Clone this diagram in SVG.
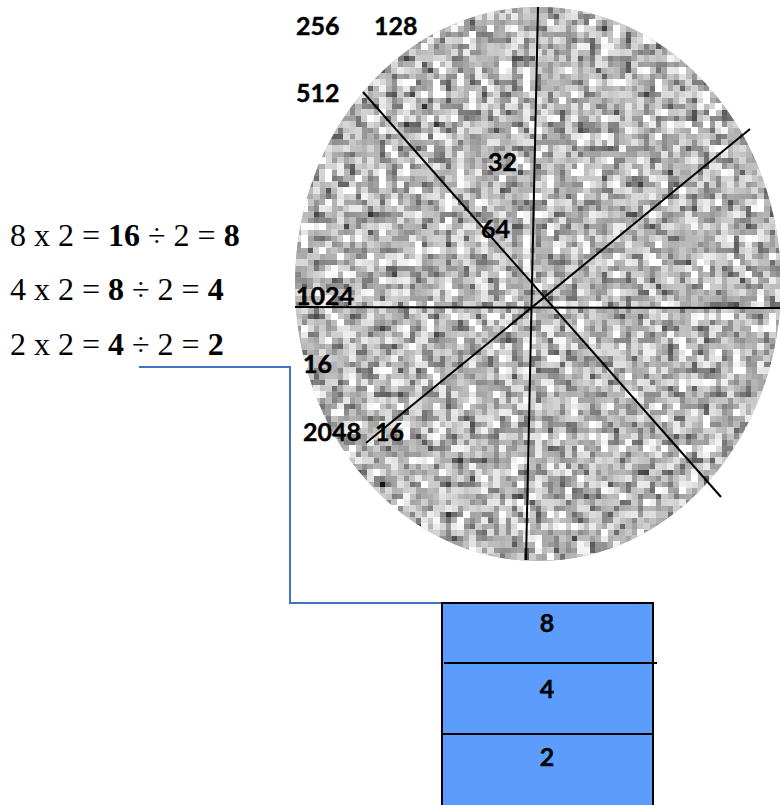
<svg xmlns="http://www.w3.org/2000/svg" width="780" height="805" viewBox="0 0 780 805">
  <style>
    .eq { font-family: "Liberation Serif", "Times New Roman", serif; font-size: 32px; fill: #000; }
    .eq .b { font-weight: bold; }
    .lbl { font-family: Lato, "Liberation Sans", sans-serif; font-weight: bold; font-size: 25px; fill: #000; stroke: #000; stroke-width: 0.4; }
    .spoke { stroke: #000; stroke-width: 2; fill: none; }
    .conn { stroke: #4472C4; stroke-width: 2; fill: none; }
    .cell { fill: #5B9CFD; stroke: #000; stroke-width: 2; }
    .mid { font-family: Lato, "Liberation Sans", sans-serif; font-weight: bold; font-size: 25px; fill: #000; stroke: #000; stroke-width: 0.4; text-anchor: middle; }
  </style>
  <defs>
    <filter id="grain" x="295" y="7" width="486" height="554" filterUnits="userSpaceOnUse" primitiveUnits="userSpaceOnUse" color-interpolation-filters="sRGB">
      <feTurbulence type="fractalNoise" baseFrequency="0.09" numOctaves="3" seed="7" result="t"/>
      <feColorMatrix in="t" type="matrix" values="1.4 0 0 0 0.0  1.4 0 0 0 0.0  1.4 0 0 0 0.0  0 0 0 0 1" result="g"/>
      <feFlood x="298" y="10" width="1" height="1" flood-color="#fff" result="dot"/>
      <feComposite in="dot" in2="dot" x="295" y="7" width="6" height="6" result="cellDot"/>
      <feTile in="cellDot" result="grid"/>
      <feComposite in="g" in2="grid" operator="in" result="sampled"/>
      <feMorphology in="sampled" operator="dilate" radius="3" result="pix"/>
      <feComposite in="pix" in2="SourceGraphic" operator="in"/>
    </filter>
  </defs>

  <g id="wheel">
    <ellipse cx="538" cy="284" rx="243" ry="277" fill="#b4b4b4"/>
    <ellipse cx="538" cy="284" rx="243" ry="277" fill="#fff" filter="url(#grain)"/>
    <line class="spoke" x1="538" y1="7" x2="526" y2="560"/>
    <line class="spoke" x1="363" y1="92" x2="721" y2="497"/>
    <line class="spoke" x1="750" y1="129" x2="366" y2="443"/>
    <line class="spoke" x1="295" y1="307" x2="780" y2="308"/>
  </g>

  <g id="wheel-labels">
    <text class="lbl" x="296" y="35">256</text>
    <text class="lbl" x="374" y="35">128</text>
    <text class="lbl" x="296" y="102">512</text>
    <text class="lbl" x="488" y="171">32</text>
    <text class="lbl" x="481" y="238">64</text>
    <text class="lbl" x="296" y="305">1024</text>
    <text class="lbl" x="303" y="373">16</text>
    <text class="lbl" x="303" y="441">2048</text>
    <text class="lbl" x="375" y="441">16</text>
  </g>

  <g id="equations">
    <text class="eq" x="10" y="246">8 x 2 = <tspan class="b">16</tspan> ÷ 2 = <tspan class="b">8</tspan></text>
    <text class="eq" x="10" y="300">4 x 2 = <tspan class="b">8</tspan> ÷ 2 = <tspan class="b">4</tspan></text>
    <text class="eq" x="10" y="355">2 x 2 = <tspan class="b">4</tspan> ÷ 2 = <tspan class="b">2</tspan></text>
  </g>

  <g id="connectors">
    <polyline class="conn" points="139,367 290,367 290,603 442,603"/>
  </g>

  <g id="stack">
    <rect class="cell" x="442" y="603" width="211" height="210"/>
    <line stroke="#000" stroke-width="2" x1="444" y1="663" x2="657" y2="663"/>
    <line stroke="#000" stroke-width="2" x1="442" y1="734" x2="653" y2="734"/>
    <text class="mid" x="547" y="632">8</text>
    <text class="mid" x="547" y="698">4</text>
    <text class="mid" x="547" y="766">2</text>
  </g>
</svg>
